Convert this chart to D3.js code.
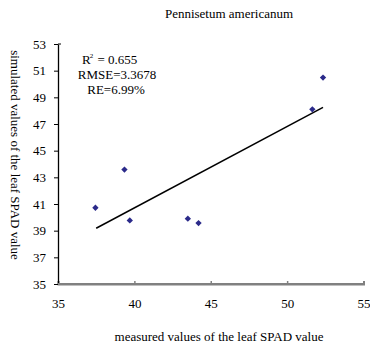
<!DOCTYPE html>
<html><head><meta charset="utf-8">
<script src="https://cdn.jsdelivr.net/npm/d3@7"></script>
<style>body{margin:0;background:#fff}svg{display:block}text{font-family:"Liberation Serif","Times New Roman",serif;fill:#000}</style>
</head><body>
<script>
const measured = [37.45, 39.35, 39.7, 43.5, 44.2, 51.65, 52.35];
const simulated = [40.72, 43.58, 39.77, 39.9, 39.57, 48.1, 50.48];
const fitX = [37.5, 52.35];
const fitY = [39.18, 48.25];
const xTicks = [35, 40, 45, 50, 55];
const yTicks = [35, 37, 39, 41, 43, 45, 47, 49, 51, 53];
const title = "Pennisetum americanum";
const xLabel = "measured values of the leaf SPAD value";
const yLabel = "simulated values of the leaf SPAD value";
const stats = ["= 0.655", "RMSE=3.3678", "RE=6.99%"];

const W = 370, H = 345;
const svg = d3.select("body").append("svg").attr("width", W).attr("height", H);
const x = d3.scaleLinear().domain([35, 55]).range([58, 363.5]);
const y = d3.scaleLinear().domain([35, 53]).range([284, 44]);

// x axis (gray, ticks inward)
const xa = svg.append("g").attr("transform", `translate(0,${y(35)})`)
  .call(d3.axisBottom(x).tickValues(xTicks).tickSize(-3).tickFormat(d3.format("d")));
xa.select(".domain").attr("stroke", "#808080").attr("stroke-width", 2);
xa.selectAll(".tick line").attr("stroke", "#808080").attr("stroke-width", 1.5);
xa.selectAll(".tick text").attr("font-size", 13).attr("font-family", "Liberation Serif").attr("dy", "0.71em").attr("y", 15);

// y axis
const ya = svg.append("g").attr("transform", `translate(${x(35)},0)`)
  .call(d3.axisLeft(y).tickValues(yTicks).tickSize(4).tickSizeOuter(0).tickPadding(8).tickFormat(d3.format("d")));
ya.select(".domain").attr("stroke", "#000").attr("stroke-width", 1.3);
ya.selectAll(".tick line").attr("stroke", "#000");
ya.selectAll(".tick text").attr("font-size", 13).attr("font-family", "Liberation Serif");
svg.append("line").attr("x1", x(35)).attr("x2", x(35) + 3).attr("y1", y(53)).attr("y2", y(53)).attr("stroke", "#000");
svg.append("line").attr("x1", x(35)).attr("x2", x(55)).attr("y1", y(35)).attr("y2", y(35)).attr("stroke", "#808080").attr("stroke-width", 2);

// fit line
svg.append("line").attr("x1", x(fitX[0])).attr("y1", y(fitY[0])).attr("x2", x(fitX[1])).attr("y2", y(fitY[1]))
  .attr("stroke", "#000").attr("stroke-width", 1.5);

// points
svg.selectAll("path.pt").data(measured).enter().append("path").attr("class", "pt")
  .attr("d", d3.symbol().type(d3.symbolSquare).size(20))
  .attr("transform", (d, i) => `translate(${x(d)},${y(simulated[i])}) rotate(45)`)
  .attr("fill", "#2B2A8A");

// title
svg.append("text").attr("x", 229).attr("y", 18).attr("text-anchor", "middle").attr("font-size", 13).text(title);

// stats
const t0 = svg.append("text").attr("x", 82).attr("y", 64).attr("font-size", 13);
t0.append("tspan").text("R");
t0.append("tspan").attr("font-size", 7).attr("dx", -1).attr("dy", -6).text("2");
t0.append("tspan").attr("dx", 1).attr("dy", 6).text(" " + stats[0]);
svg.append("text").attr("x", 117).attr("y", 79).attr("text-anchor", "middle").attr("font-size", 13).text(stats[1]);
svg.append("text").attr("x", 116).attr("y", 94).attr("text-anchor", "middle").attr("font-size", 13).text(stats[2]);

// axis labels
svg.append("text").attr("x", 219).attr("y", 341).attr("text-anchor", "middle").attr("font-size", 13).text(xLabel);
svg.append("text").attr("transform", "translate(11,155) rotate(90)").attr("text-anchor", "middle").attr("font-size", 13).text(yLabel);
</script>
</body></html>
